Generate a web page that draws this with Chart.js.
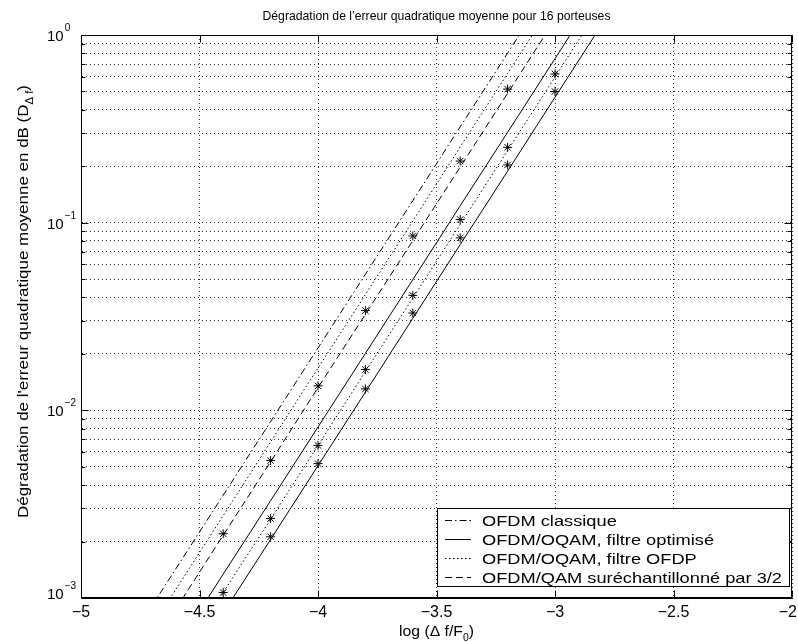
<!DOCTYPE html>
<html><head><meta charset="utf-8">
<script src="https://cdn.jsdelivr.net/npm/chart.js@4.4.0/dist/chart.umd.min.js"></script>
<style>html,body{margin:0;padding:0;background:#fff;}#wrap{width:798px;height:642px;}</style>
</head><body><div id="wrap"><canvas id="c" width="798" height="642"></canvas></div>
<script>
// ---- text ----
const chartTitle = 'Dégradation de l’erreur quadratique moyenne pour 16 porteuses';
const xTitleParts = ['log (Δ f/F', '0', ')'];
const yTitleParts = ["Dégradation de l'erreur quadratique moyenne en dB (D", 'Δ f', ')'];
const legendLabels = ['OFDM classique', 'OFDM/OQAM, filtre optimisé', 'OFDM/OQAM, filtre OFDP', 'OFDM/QAM suréchantillonné par 3/2'];

// ---- ticks ----
const xTicks = [-5, -4.5, -4, -3.5, -3, -2.5, -2];
const yTickExponents = [-3, -2, -1, 0];
const yMinorMultipliers = [2, 3, 4, 5, 6, 7, 8, 9];

// ---- curves ----
const lineX = [-4.8, -4.6, -4.4, -4.2, -4.0, -3.8, -3.6, -3.4, -3.2, -3.0, -2.8];
const classique = [5.79e-4, 1.43e-3, 3.53e-3, 8.71e-3, 2.15e-2, 5.31e-2, 0.131, 0.324, 0.80, 1.98, 4.89];
const ofdpA     = [4.51e-4, 1.11e-3, 2.75e-3, 6.79e-3, 1.68e-2, 4.14e-2, 0.102, 0.253, 0.624, 1.54, 3.81];
const surech    = [3.54e-4, 8.73e-4, 2.16e-3, 5.32e-3, 1.32e-2, 3.25e-2, 8.02e-2, 0.198, 0.489, 1.21, 2.98];
const optimA    = [2.19e-4, 5.41e-4, 1.34e-3, 3.30e-3, 8.15e-3, 2.01e-2, 4.97e-2, 0.123, 0.303, 0.748, 1.85];
const ofdpB     = [1.75e-4, 4.32e-4, 1.07e-3, 2.63e-3, 6.50e-3, 1.61e-2, 3.96e-2, 9.79e-2, 0.242, 0.597, 1.48];
const optimB    = [1.36e-4, 3.37e-4, 8.32e-4, 2.05e-3, 5.07e-3, 1.25e-2, 3.09e-2, 7.64e-2, 0.188, 0.466, 1.15];

// ---- simulation markers ----
const markXA = [-4.4, -4.2, -4.0, -3.8, -3.6, -3.4, -3.2];
const surechPts = [2.2e-3, 5.4e-3, 1.35e-2, 3.4e-2, 8.5e-2, 0.213, 0.515];
const markXB = [-4.2, -4.0, -3.8, -3.6, -3.4, -3.2, -3.0];
const ofdpPts = [2.65e-3, 6.5e-3, 1.65e-2, 4.1e-2, 0.104, 0.252, 0.62];
const markXC = [-4.4, -4.2, -4.0, -3.8, -3.6, -3.4, -3.2, -3.0];
const optimPts = [1.07e-3, 2.12e-3, 5.2e-3, 1.3e-2, 3.3e-2, 8.3e-2, 0.203, 0.5];

const FONT = '"Liberation Sans", Arial, Helvetica, sans-serif';
Chart.defaults.font.family = FONT;
Chart.defaults.font.size = 13;
Chart.defaults.color = '#000';

const DASHDOT = [7, 3, 1.5, 3];
const DASHED = [7, 4];
const DOTTED = [1.5, 2.5];
const legendDashes = [DASHDOT, [], DOTTED, DASHED];

function pts(xs, ys) { return xs.map((x, i) => ({ x: x, y: ys[i] })); }
function lineDs(label, ys, dash) {
  return { label: label, data: pts(lineX, ys), borderColor: '#000', borderWidth: 1, borderDash: dash,
    pointRadius: 0, fill: false, tension: 0 };
}
function markDs(xs, ys) {
  return { label: '', data: pts(xs, ys), showLine: false, pointStyle: 'star', pointRadius: 4.5,
    pointBorderColor: '#000', pointBorderWidth: 1, borderColor: '#000', backgroundColor: '#000' };
}
function fmtNum(v) { return (v < 0 ? '\u2212' : '') + String(Math.abs(v)); }

// draw [main, sub, end] centred at (cx, baseY), scaled horizontally to a target width
function drawSub(ctx, parts, cx, baseY, size, subSize, subDrop, targetW) {
  ctx.font = size + 'px ' + FONT;
  const w0 = ctx.measureText(parts[0]).width;
  const w2 = ctx.measureText(parts[2]).width;
  ctx.font = subSize + 'px ' + FONT;
  const w1 = ctx.measureText(parts[1]).width;
  const total = w0 + w1 + w2;
  const k = targetW ? targetW / total : 1;
  ctx.save();
  ctx.translate(cx, baseY);
  ctx.scale(k, 1);
  let x = -total / 2;
  ctx.textAlign = 'left';
  ctx.textBaseline = 'alphabetic';
  ctx.font = size + 'px ' + FONT;
  ctx.fillText(parts[0], x, 0);
  x += w0;
  ctx.font = subSize + 'px ' + FONT;
  ctx.fillText(parts[1], x, subDrop);
  x += w1;
  ctx.font = size + 'px ' + FONT;
  ctx.fillText(parts[2], x, 0);
  ctx.restore();
}

const decor = {
  id: 'decor',
  afterDraw(chart) {
    const ctx = chart.ctx;
    const a = chart.chartArea;
    const xs = chart.scales.x, ys = chart.scales.y;
    const L = Math.round(a.left) + 0.5, R = Math.round(a.right) - 0.5;
    const T = Math.round(a.top) + 0.5, B = Math.round(a.bottom) - 0.5;
    ctx.save();
    ctx.strokeStyle = '#000'; ctx.lineWidth = 1; ctx.setLineDash([]);
    ctx.strokeRect(L, T, R - L, B - T);
    // inward ticks
    ctx.beginPath();
    xTicks.forEach(v => {
      const px = Math.round(xs.getPixelForValue(v)) + 0.5;
      ctx.moveTo(px, B); ctx.lineTo(px, B - 7);
      ctx.moveTo(px, T); ctx.lineTo(px, T + 7);
    });
    yTickExponents.forEach(e => {
      const py = Math.round(ys.getPixelForValue(Math.pow(10, e))) + 0.5;
      ctx.moveTo(L, py); ctx.lineTo(L + 7, py);
      ctx.moveTo(R, py); ctx.lineTo(R - 7, py);
      if (e < 0) yMinorMultipliers.forEach(m => {
        const q = Math.round(ys.getPixelForValue(m * Math.pow(10, e))) + 0.5;
        ctx.moveTo(L, q); ctx.lineTo(L + 4, q);
        ctx.moveTo(R, q); ctx.lineTo(R - 4, q);
      });
    });
    ctx.stroke();
    ctx.fillStyle = '#000';
    // x tick labels (kept inside the canvas)
    ctx.font = '16px ' + FONT;
    ctx.textAlign = 'left';
    ctx.textBaseline = 'alphabetic';
    xTicks.forEach(v => {
      const s = fmtNum(v);
      const w = ctx.measureText(s).width;
      let x0 = xs.getPixelForValue(v) - w / 2;
      if (x0 + w > 797) x0 = 797 - w;
      ctx.fillText(s, x0, 617);
    });
    // y tick labels 10^e
    yTickExponents.forEach(e => {
      const py = ys.getPixelForValue(Math.pow(10, e));
      const base = e === yTickExponents[0] ? py + 0.5 : py + 6;
      ctx.font = '15px ' + FONT;
      ctx.fillText('10', 47, base);
      const w = ctx.measureText('10').width;
      ctx.font = '10px ' + FONT;
      ctx.fillText(fmtNum(e), 47 + w + 1, base - 10);
    });
    // title
    const cx = (a.left + a.right) / 2;
    drawSub(ctx, [chartTitle, '', ''], cx, 20, 13, 9, 0, 348);
    // x title with subscript
    drawSub(ctx, xTitleParts, cx, 636, 15, 10, 5, 75);
    // y title rotated
    ctx.save();
    ctx.translate(28, 301.5);
    ctx.rotate(-Math.PI / 2);
    drawSub(ctx, yTitleParts, 0, 0, 15, 10, 5, 433);
    ctx.restore();
    // legend
    const bx = 437.5, by = 508.5, bw = 352, bh = 78;
    ctx.fillStyle = '#fff';
    ctx.fillRect(bx, by, bw, bh);
    ctx.strokeStyle = '#000';
    ctx.strokeRect(bx, by, bw, bh);
    ctx.fillStyle = '#000';
    ctx.textAlign = 'left';
    ctx.font = '15px ' + FONT;
    const kL = 300 / ctx.measureText(legendLabels[3]).width;
    legendLabels.forEach((lab, i) => {
      const ry = 520.5 + i * 19;
      ctx.beginPath();
      ctx.setLineDash(legendDashes[i]);
      ctx.moveTo(445, ry); ctx.lineTo(471, ry);
      ctx.stroke();
      ctx.setLineDash([]);
      ctx.save();
      ctx.translate(482, ry + 5.5);
      ctx.scale(kL, 1);
      ctx.fillText(lab, 0, 0);
      ctx.restore();
    });
    ctx.restore();
  }
};

new Chart(document.getElementById('c'), {
  type: 'line',
  data: {
    datasets: [
      lineDs(legendLabels[0], classique, DASHDOT),
      lineDs(legendLabels[2], ofdpA, DOTTED),
      lineDs(legendLabels[3], surech, DASHED),
      lineDs(legendLabels[1], optimA, []),
      lineDs(legendLabels[2], ofdpB, DOTTED),
      lineDs(legendLabels[1], optimB, []),
      markDs(markXA, surechPts),
      markDs(markXB, ofdpPts),
      markDs(markXC, optimPts)
    ]
  },
  options: {
    responsive: false, animation: false, devicePixelRatio: 1,
    layout: { padding: { top: 35, right: 6, left: 0, bottom: 0 } },
    plugins: { legend: { display: false }, title: { display: false }, tooltip: { enabled: false } },
    scales: {
      x: {
        type: 'linear', min: -5, max: -2,
        afterBuildTicks: s => { s.ticks = xTicks.map(v => ({ value: v })); },
        ticks: { callback: () => '', maxRotation: 0, autoSkip: false },
        grid: { color: '#333', lineWidth: 1, drawTicks: false },
        border: { display: true, color: '#000', width: 1, dash: [1, 3] },
        afterFit: s => { s.height = 44; s.paddingLeft = 0; s.paddingRight = 0; }
      },
      y: {
        type: 'logarithmic', min: 1e-3, max: 1,
        afterBuildTicks: s => {
          const t = [];
          yTickExponents.forEach(e => {
            t.push({ value: Math.pow(10, e), major: true });
            if (e < 0) yMinorMultipliers.forEach(m => t.push({ value: m * Math.pow(10, e) }));
          });
          t.sort((p, q) => p.value - q.value);
          s.ticks = t;
        },
        ticks: { callback: () => '', autoSkip: false },
        grid: { color: '#333', lineWidth: 1, drawTicks: false },
        border: { display: true, color: '#000', width: 1, dash: [1, 3] },
        afterFit: s => { s.width = 81; s.paddingTop = 0; s.paddingBottom = 0; }
      }
    }
  },
  plugins: [decor]
});
</script>
</body></html>
